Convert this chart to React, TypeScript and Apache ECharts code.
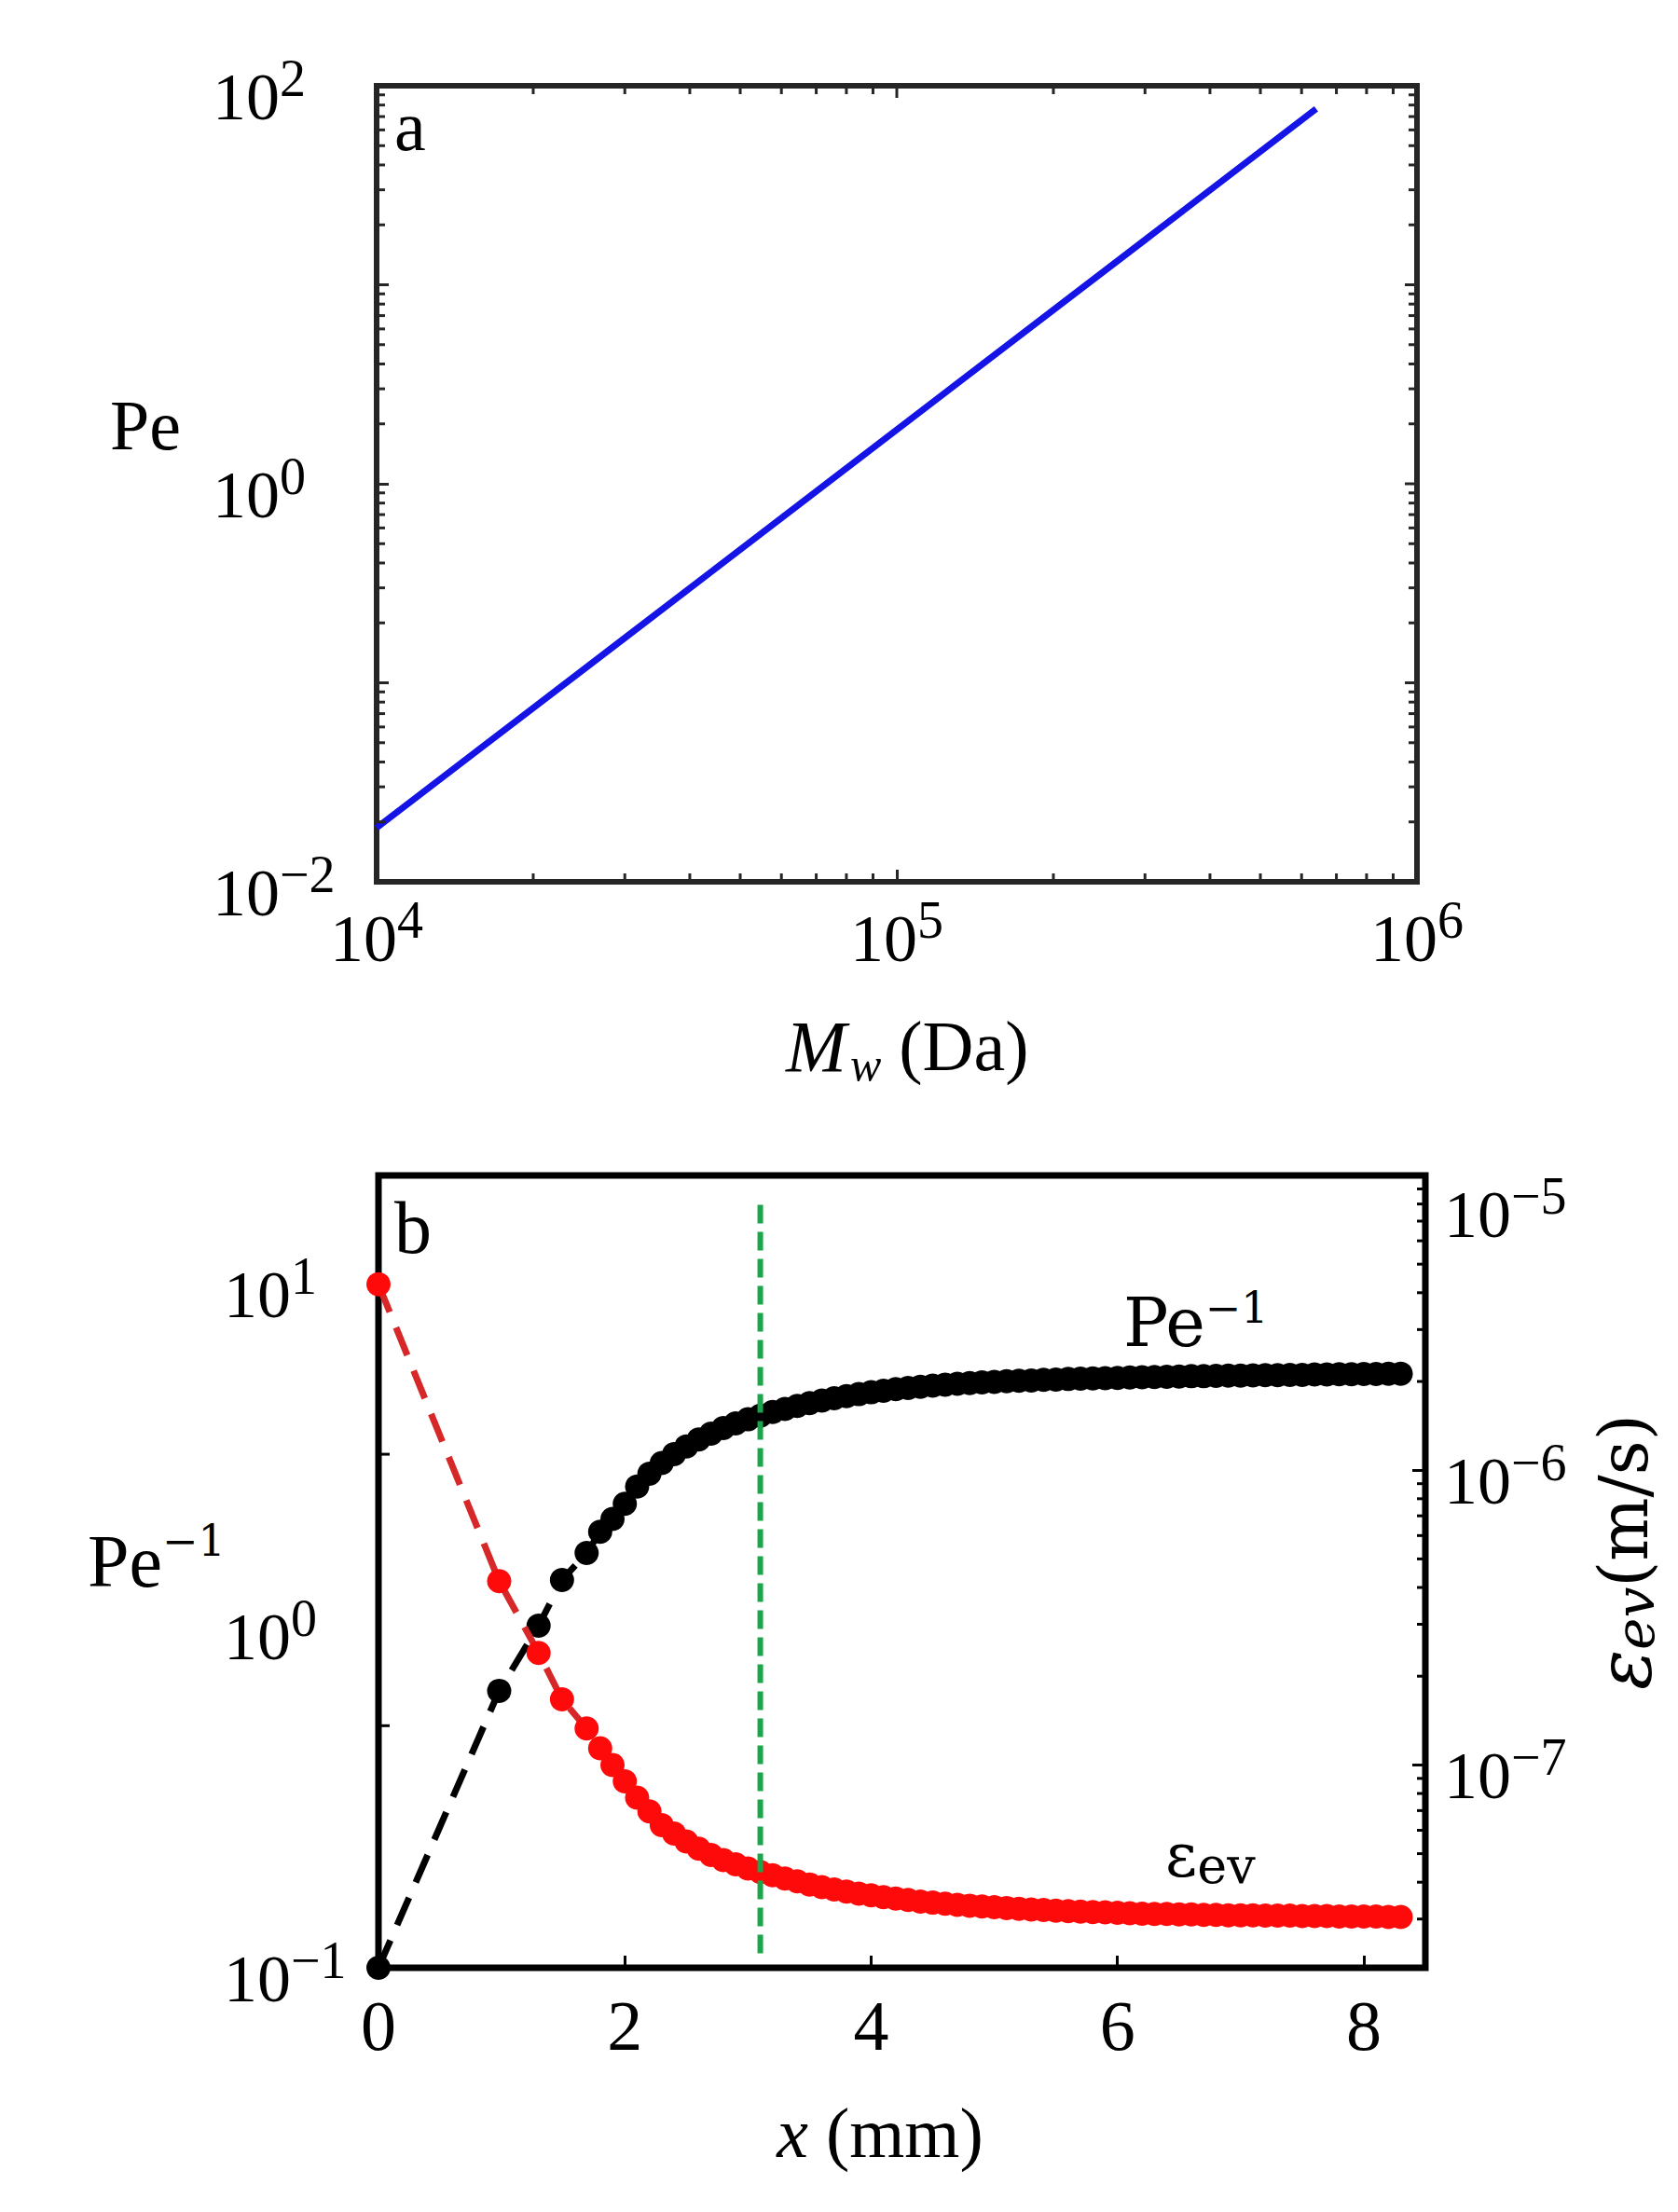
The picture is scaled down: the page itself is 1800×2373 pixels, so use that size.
import React, { useEffect, useRef } from "react";
import * as echarts from "echarts";

// ---------- Panel a data ----------
const MW_DA = [10000, 30000, 100000, 300000, 640000];
const PE_VALUES = [0.0187, 0.168, 1.87, 16.8, 76.6];
const A_X_RANGE = [1e4, 1e6];
const A_Y_RANGE = [1e-2, 1e2];
const A_X_LABEL_EXPS = [4, 5, 6];
const A_Y_LABEL_EXPS = [-2, 0, 2];
const A_X_DECADES = [1e4, 1e5];
const A_Y_DECADES = [1e-2, 1e-1, 1, 10];
const A_X_MIRROR_MAJORS = [1e5];
const A_Y_MIRROR_MAJORS = [0.1, 1, 10];

// ---------- Panel b data ----------
const X_MM = [
  0, 0.98, 1.3, 1.49, 1.69, 1.8,
  1.9, 2.0, 2.1, 2.2, 2.3, 2.4, 2.5, 2.6, 2.7, 2.8, 2.9, 3.0, 3.1, 3.2, 3.3, 3.4, 3.5, 3.6,
  3.7, 3.8, 3.9, 4.0, 4.1, 4.2, 4.3, 4.4, 4.5, 4.6, 4.7, 4.8, 4.9, 5.0, 5.1, 5.2, 5.3, 5.4,
  5.5, 5.6, 5.7, 5.8, 5.9, 6.0, 6.1, 6.2, 6.3, 6.4, 6.5, 6.6, 6.7, 6.8, 6.9, 7.0, 7.1, 7.2,
  7.3, 7.4, 7.5, 7.6, 7.7, 7.8, 7.9, 8.0, 8.1, 8.2, 8.3,
];
const PE_INV = [
  0.1, 0.645, 1.0, 1.36, 1.63, 1.88,
  2.05, 2.27, 2.55, 2.78, 2.99, 3.17, 3.34, 3.5, 3.64, 3.78, 3.9, 4.01, 4.11, 4.21, 4.3, 4.39, 4.47, 4.55,
  4.62, 4.69, 4.75, 4.81, 4.86, 4.91, 4.95, 4.99, 5.03, 5.06, 5.09, 5.12, 5.14, 5.16, 5.18, 5.2, 5.21, 5.23,
  5.24, 5.26, 5.27, 5.28, 5.29, 5.3, 5.31, 5.32, 5.33, 5.34, 5.35, 5.36, 5.36, 5.37, 5.38, 5.38, 5.39, 5.4,
  5.4, 5.41, 5.41, 5.42, 5.42, 5.43, 5.43, 5.44, 5.44, 5.45, 5.45,
];
const EPS_EV = [
  4.27e-6, 4.2e-7, 2.4e-7, 1.67e-7, 1.33e-7, 1.14e-7,
  1.0e-7, 8.8e-8, 7.75e-8, 6.95e-8, 6.25e-8, 5.85e-8, 5.5e-8, 5.2e-8, 4.95e-8, 4.75e-8, 4.6e-8, 4.45e-8, 4.33e-8, 4.22e-8, 4.12e-8, 4.03e-8, 3.93e-8, 3.85e-8,
  3.78e-8, 3.72e-8, 3.66e-8, 3.61e-8, 3.56e-8, 3.52e-8, 3.48e-8, 3.44e-8, 3.41e-8, 3.38e-8, 3.35e-8, 3.33e-8, 3.31e-8, 3.29e-8, 3.27e-8, 3.25e-8, 3.23e-8, 3.22e-8,
  3.2e-8, 3.19e-8, 3.18e-8, 3.17e-8, 3.16e-8, 3.15e-8, 3.14e-8, 3.13e-8, 3.12e-8, 3.12e-8, 3.11e-8, 3.11e-8, 3.1e-8, 3.1e-8, 3.09e-8, 3.09e-8, 3.09e-8, 3.08e-8,
  3.08e-8, 3.08e-8, 3.07e-8, 3.07e-8, 3.07e-8, 3.06e-8, 3.06e-8, 3.06e-8, 3.06e-8, 3.05e-8, 3.05e-8,
];
const B_X_RANGE = [0, 8.5];
const B_X_TICKS = [0, 2, 4, 6, 8];
const B_LEFT_RANGE = [0.1, 20.7];
const B_RIGHT_RANGE = [2.05e-8, 1e-5];
const B_LEFT_LABEL_EXPS = [-1, 0, 1];
const B_RIGHT_LABEL_EXPS = [-7, -6, -5];
const B_LEFT_EXTRA_TICKS = [3.17, 0.51];
const B_RIGHT_DECADES = [1e-8, 1e-7, 1e-6];
const GREEN_LINE_X = [3.1, 3.1];
const GREEN_LINE_Y = [17, 0.106];
const MANTISSAS = [2, 3, 4, 5, 6, 7, 8, 9];

const SERIF = "'Liberation Serif', 'DejaVu Serif', serif";
const CAMBRIA = "'DejaVu Serif', 'Liberation Serif', serif";

function powLabel(exps: number[], shiftedExp?: number) {
  return (v: number) => {
    const e = Math.log10(v);
    const r = Math.round(e);
    if (Math.abs(e - r) > 1e-6 || !exps.includes(r)) return "";
    const ex = r < 0 ? "\u2212" + -r : String(r);
    if (shiftedExp !== undefined && r === shiftedExp) return `{g| }\n{b|10}{s|${ex}}`;
    return `{b|10}{s|${ex}}`;
  };
}

const powRich = {
  b: { fontSize: 72, lineHeight: 72, padding: [24, 0, 0, 0], fontFamily: SERIF, color: "#000" },
  s: { fontSize: 56, lineHeight: 56, verticalAlign: "top", fontFamily: SERIF, color: "#000" },
  g: { fontSize: 10, lineHeight: 60, color: "#000" },
};

function tickLine(x1: number, y1: number, x2: number, y2: number, color: string, width: number) {
  return { type: "line", shape: { x1, y1, x2, y2 }, style: { stroke: color, lineWidth: width } };
}

// items: [x, y, len, side]  side 0 both, 1 start (left/bottom) only, 2 end (right/top) only
function tickSeries(
  xi: number,
  yi: number,
  orient: "x" | "y",
  items: number[][],
  xr: number[],
  yr: number[],
  color: string,
  width: number
) {
  return {
    type: "custom",
    xAxisIndex: xi,
    yAxisIndex: yi,
    silent: true,
    clip: false,
    z: 6,
    data: items,
    renderItem: (_params: any, api: any) => {
      const len = api.value(2);
      const side = api.value(3);
      const children: any[] = [];
      if (orient === "y") {
        const v = api.value(1);
        const a = api.coord([xr[0], v]);
        const b = api.coord([xr[1], v]);
        if (side !== 2) children.push(tickLine(a[0], a[1], a[0] + len, a[1], color, width));
        if (side !== 1) children.push(tickLine(b[0] - len, b[1], b[0], b[1], color, width));
      } else {
        const v = api.value(0);
        const a = api.coord([v, yr[0]]);
        const b = api.coord([v, yr[1]]);
        if (side !== 2) children.push(tickLine(a[0], a[1], a[0], a[1] - len, color, width));
        if (side !== 1) children.push(tickLine(b[0], b[1], b[0], b[1] + len, color, width));
      }
      return { type: "group", children };
    },
  };
}

export default function App() {
  const ref = useRef<HTMLDivElement>(null);

  useEffect(() => {
    document.body.style.margin = "0";
    if (!ref.current) return;
    const chart = echarts.init(ref.current, undefined, { renderer: "svg" });

    const aXItems: number[][] = [];
    A_X_DECADES.forEach((d) => MANTISSAS.forEach((m) => aXItems.push([m * d, A_Y_RANGE[0], 9, 0])));
    A_X_MIRROR_MAJORS.forEach((v) => aXItems.push([v, A_Y_RANGE[0], 13, 2]));
    const aYItems: number[][] = [];
    A_Y_DECADES.forEach((d) => MANTISSAS.forEach((m) => aYItems.push([A_X_RANGE[0], m * d, 9, 0])));
    A_Y_MIRROR_MAJORS.forEach((v) => aYItems.push([A_X_RANGE[0], v, 13, 2]));
    const bRightItems: number[][] = [];
    B_RIGHT_DECADES.forEach((d) =>
      MANTISSAS.forEach((m) => {
        const v = m * d;
        if (v > B_RIGHT_RANGE[0] && v < B_RIGHT_RANGE[1]) bRightItems.push([B_X_RANGE[0], v, 9, 2]);
      })
    );
    const bLeftItems: number[][] = B_LEFT_EXTRA_TICKS.map((v) => [B_X_RANGE[0], v, 12, 1]);

    const option: any = {
      animation: false,
      backgroundColor: "#fff",
      grid: [
        { left: 404, top: 92, width: 1116, height: 854, show: true, borderColor: "#262626", borderWidth: 6, backgroundColor: "transparent" },
        { left: 406, top: 1261, width: 1123, height: 850, show: true, borderColor: "#000", borderWidth: 7, backgroundColor: "transparent" },
      ],
      xAxis: [
        {
          type: "log", logBase: 10, gridIndex: 0, min: A_X_RANGE[0], max: A_X_RANGE[1],
          axisLine: { show: false },
          axisTick: { show: true, inside: true, length: 13, lineStyle: { color: "#262626", width: 3 } },
          splitLine: { show: false },
          axisLabel: { margin: 13, showMinLabel: true, showMaxLabel: true, formatter: powLabel(A_X_LABEL_EXPS), rich: powRich },
        },
        {
          type: "value", gridIndex: 1, min: B_X_RANGE[0], max: B_X_RANGE[1], interval: 2,
          axisLine: { show: false },
          axisTick: { show: true, inside: true, length: 13, lineStyle: { color: "#000", width: 3 } },
          splitLine: { show: false },
          axisLabel: {
            margin: 24, fontSize: 76, fontFamily: SERIF, color: "#000",
            formatter: (v: number) => (B_X_TICKS.includes(v) ? String(v) : ""),
          },
        },
      ],
      yAxis: [
        {
          type: "log", logBase: 10, gridIndex: 0, min: A_Y_RANGE[0], max: A_Y_RANGE[1],
          axisLine: { show: false },
          axisTick: { show: true, inside: true, length: 13, lineStyle: { color: "#262626", width: 3 } },
          splitLine: { show: false },
          axisLabel: { align: "left", margin: 176, showMinLabel: true, showMaxLabel: true, formatter: powLabel(A_Y_LABEL_EXPS), rich: powRich },
        },
        {
          type: "log", logBase: 10, gridIndex: 1, position: "left", min: B_LEFT_RANGE[0], max: B_LEFT_RANGE[1],
          axisLine: { show: false },
          axisTick: { show: false },
          splitLine: { show: false },
          axisLabel: { align: "left", margin: 166, showMinLabel: true, formatter: powLabel(B_LEFT_LABEL_EXPS), rich: powRich },
        },
        {
          type: "log", logBase: 10, gridIndex: 1, position: "right", min: B_RIGHT_RANGE[0], max: B_RIGHT_RANGE[1],
          axisLine: { show: false },
          axisTick: { show: true, inside: true, length: 14, lineStyle: { color: "#000", width: 3 } },
          splitLine: { show: false },
          axisLabel: { margin: 20, showMaxLabel: true, formatter: powLabel(B_RIGHT_LABEL_EXPS, -5), rich: powRich },
        },
      ],
      series: [
        {
          type: "line", xAxisIndex: 0, yAxisIndex: 0, z: 3,
          data: MW_DA.map((x, i) => [x, PE_VALUES[i]]),
          showSymbol: false, symbol: "none",
          lineStyle: { color: "#1414e6", width: 7 },
        },
        tickSeries(0, 0, "x", aXItems, A_X_RANGE, A_Y_RANGE, "#262626", 3),
        tickSeries(0, 0, "y", aYItems, A_X_RANGE, A_Y_RANGE, "#262626", 3),
        {
          type: "line", xAxisIndex: 1, yAxisIndex: 1, z: 3,
          data: X_MM.map((x, i) => [x, PE_INV[i]]),
          symbol: "circle", symbolSize: 26, showAllSymbol: true,
          itemStyle: { color: "#000" },
          lineStyle: { color: "#000", width: 7, type: [32, 18] },
        },
        {
          type: "line", xAxisIndex: 1, yAxisIndex: 2, z: 4,
          data: X_MM.map((x, i) => [x, EPS_EV[i]]),
          symbol: "circle", symbolSize: 26, showAllSymbol: true,
          itemStyle: { color: "#ff0a0a" },
          lineStyle: { color: "#d62828", width: 7, type: [32, 18] },
        },
        {
          type: "line", xAxisIndex: 1, yAxisIndex: 1, z: 8,
          data: GREEN_LINE_X.map((x, i) => [x, GREEN_LINE_Y[i]]),
          symbol: "none",
          lineStyle: { color: "#1aa64a", width: 6, type: [20, 9] },
        },
        tickSeries(1, 2, "y", bRightItems, B_X_RANGE, B_RIGHT_RANGE, "#000", 3),
        tickSeries(1, 1, "y", bLeftItems, B_X_RANGE, B_LEFT_RANGE, "#000", 3),
      ],
      graphic: [
        { type: "text", x: 423, y: 135, style: { text: "a", fontSize: 76, fontFamily: SERIF, fill: "#000", verticalAlign: "middle" } },
        { type: "text", x: 423, y: 1317, style: { text: "b", fontSize: 80, fontFamily: SERIF, fill: "#000", verticalAlign: "middle" } },
        { type: "text", x: 118, y: 456, style: { text: "Pe", fontSize: 76, fontFamily: SERIF, fill: "#000", verticalAlign: "middle" } },
        {
          type: "text", x: 843, y: 1128,
          style: {
            text: "{m|M}{w|w}{d| (Da)}", verticalAlign: "middle", align: "left",
            rich: {
              m: { fontSize: 78, lineHeight: 78, fontStyle: "italic", fontFamily: SERIF, fill: "#000", padding: [0, 4, 12, 0] },
              w: { fontSize: 50, lineHeight: 50, fontStyle: "italic", fontFamily: SERIF, fill: "#000", verticalAlign: "bottom" },
              d: { fontSize: 76, lineHeight: 76, fontFamily: SERIF, fill: "#000", padding: [0, 0, 12, 0] },
            },
          },
        },
        {
          type: "text", x: 94, y: 1670,
          style: {
            text: "{p|Pe}{s|\u22121}", verticalAlign: "middle", align: "left",
            rich: {
              p: { fontSize: 80, lineHeight: 80, fontFamily: SERIF, fill: "#000", padding: [9, 0, 0, 0] },
              s: { fontSize: 46, lineHeight: 46, fontFamily: CAMBRIA, fill: "#000", verticalAlign: "top" },
            },
          },
        },
        {
          type: "text", x: 944, y: 2288,
          style: {
            text: "{i|x}{n| (mm)}", verticalAlign: "middle", align: "center",
            rich: {
              i: { fontSize: 76, fontStyle: "italic", fontFamily: SERIF, fill: "#000" },
              n: { fontSize: 76, fontFamily: SERIF, fill: "#000" },
            },
          },
        },
        {
          type: "text", x: 1748, y: 1665, rotation: Math.PI / 2,
          style: {
            text: "{e|\u03b5}{s|ev}{n|(m/s)}", verticalAlign: "middle", align: "center",
            rich: {
              e: { fontSize: 80, lineHeight: 70, fontStyle: "italic", fontFamily: CAMBRIA, fill: "#000", padding: [0, 0, 12, 0] },
              s: { fontSize: 58, lineHeight: 52, fontStyle: "italic", fontFamily: CAMBRIA, fill: "#000", verticalAlign: "bottom" },
              n: { fontSize: 72, lineHeight: 70, fontFamily: CAMBRIA, fill: "#000", padding: [0, 0, 12, 0] },
            },
          },
        },
        {
          type: "text", x: 1205, y: 1416,
          style: {
            text: "{p|Pe}{s|\u22121}", verticalAlign: "middle", align: "left",
            rich: {
              p: { fontSize: 72, lineHeight: 72, fontFamily: CAMBRIA, fill: "#000", padding: [6, 0, 0, 0] },
              s: { fontSize: 46, lineHeight: 46, fontFamily: CAMBRIA, fill: "#000", verticalAlign: "top" },
            },
          },
        },
        {
          type: "text", x: 1250, y: 1995,
          style: {
            text: "{e|\u03b5}{s|ev}", verticalAlign: "middle", align: "left",
            rich: {
              e: { fontSize: 66, lineHeight: 66, fontFamily: CAMBRIA, fill: "#000", padding: [0, 0, 10, 0] },
              s: { fontSize: 54, lineHeight: 54, fontFamily: CAMBRIA, fill: "#000", verticalAlign: "bottom" },
            },
          },
        },
      ],
    };

    chart.setOption(option);
    return () => chart.dispose();
  }, []);

  return <div ref={ref} style={{ width: 1800, height: 2373 }} />;
}
